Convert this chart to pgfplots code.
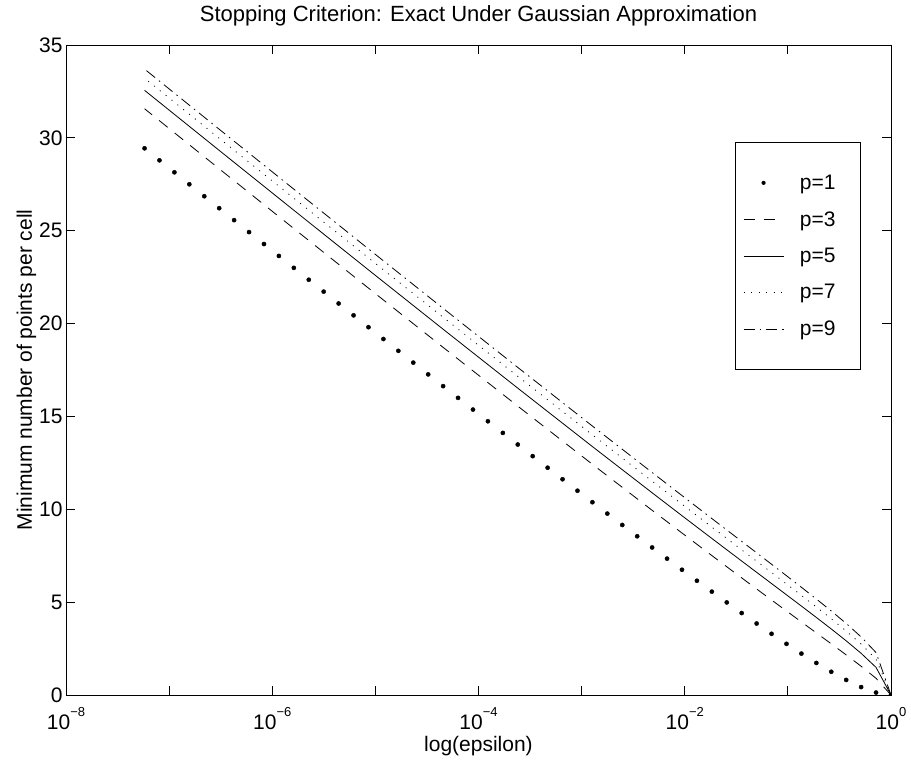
\documentclass[border=0pt]{standalone}
\usepackage{fontspec}
\setmainfont{Liberation Sans}
\usepackage{pgfplots}
\pgfplotsset{compat=1.18}
\newcommand\ff{\fontsize{21}{25}\selectfont}
\newcommand\ex[1]{10\raisebox{13pt}{\fontsize{13}{13}\selectfont #1}}
\pgfplotsset{
  lineleg/.style={legend image code/.code={\draw[##1] (0pt,0pt) -- (40pt,0pt);}},
  dotleg/.style={legend image code/.code={\path[draw=none,fill=none] (0pt,-1pt) rectangle (40pt,1pt); \fill[black,draw=none] (20pt,0pt) circle[radius=2.1pt];}},
}
\begin{document}
\begin{tikzpicture}[font=\ff]
\path[use as bounding box] (-66pt,-66pt) rectangle (845pt,695pt);
\begin{axis}[
  at={(0pt,0pt)}, anchor=south west,
  width=825pt, height=650pt, scale only axis,
  xmode=log, xmin=1e-8, xmax=1, ymin=0, ymax=35,
  xtick={1e-8,1e-6,1e-4,1e-2,1},
  xticklabels={\ex{−8},\ex{−6},\ex{−4},\ex{−2},\ex{0}},
  minor xtick={1e-7,1e-5,1e-3,1e-1},
  ytick={0,5,10,15,20,25,30,35},
  tick align=inside, major tick length=9pt, minor tick length=9pt,
  tick style={black, line width=0.8pt},
  axis line style={black, line width=0.8pt},
  /pgf/number format/assume math mode=true,
  every tick label/.append style={font=\ff},
  xticklabel style={anchor=base, yshift=-34pt},
  title={Stopping Criterion: Exact Under Gaussian Approximation},
  title style={font=\fontsize{22}{26}\selectfont, at={(axis description cs:0.5,1.0262)}, anchor=base},
  xlabel={log(epsilon)},
  xlabel style={font=\ff, at={(axis description cs:0.5,-0.0862)}, anchor=base},
  ylabel={Minimum number of points per cell},
  ylabel style={font=\ff, at={(axis description cs:-0.0412,0.5)}, anchor=base},
  legend style={font=\ff, at={(axis description cs:0.96364,0.85077)}, anchor=north east,
    draw=black, line width=0.8pt, fill=white, inner xsep=8pt, inner ysep=32.5pt,
    row sep=20.5pt, column sep=0pt, nodes={inner sep=0pt}},
  legend cell align=left,
  clip marker paths=true,
]
% p=1
\addplot[black, only marks, mark=*, mark size=2.1pt, dotleg]
coordinates {
(1,0) (0.716531,0.132) (0.513417,0.427) (0.367879,0.811) (0.263597,1.250)
(0.188876,1.726) (0.135335,2.230) (0.096972,2.755) (0.069483,3.295) (0.049787,3.849)
(0.035674,4.413) (0.025561,4.985) (0.018316,5.566) (0.013124,6.152) (0.0094033,6.744)
(0.0067379,7.343) (0.0048279,7.944) (0.0034593,8.548) (0.0024788,9.156) (0.0017761,9.767)
(0.0012726,10.381) (9.1188e-4,10.999) (6.5339e-4,11.618) (4.6817e-4,12.239) (3.3546e-4,12.861)
(2.4036e-4,13.486) (1.7223e-4,14.112) (1.2341e-4,14.740) (8.8425e-5,15.369) (6.3359e-5,15.999)
(4.5400e-5,16.631) (3.2530e-5,17.264) (2.3309e-5,17.897) (1.6702e-5,18.532) (1.1967e-5,19.168)
(8.5749e-6,19.805) (6.1442e-6,20.443) (4.4025e-6,21.081) (3.1545e-6,21.720) (2.2603e-6,22.360)
(1.6196e-6,23.000) (1.1605e-6,23.642) (8.3153e-7,24.283) (5.9582e-7,24.926) (4.2692e-7,25.569)
(3.0590e-7,26.212) (2.1919e-7,26.856) (1.5706e-7,27.500) (1.1254e-7,28.145) (8.0635e-8,28.791)
(5.7777e-8,29.437)
};
\addlegendentry{\hspace*{16pt}p=1\hspace*{17pt}}
% p=3
\addplot[black, no markers, line width=0.8pt, dash pattern=on 11pt off 9pt, lineleg]
coordinates {
(1,0) (0.716531,0.899) (0.513417,1.548) (0.367879,2.159) (0.263597,2.755)
(0.188876,3.345) (0.135335,3.934) (0.096972,4.524) (0.069483,5.115) (0.049787,5.709)
(0.035674,6.306) (0.018316,7.508) (0.0094033,8.722) (0.0048279,9.945) (0.0012726,12.422)
(2.4036e-4,15.555) (4.5400e-5,18.720) (8.5749e-6,21.909) (1.6196e-6,25.116) (3.0590e-7,28.336)
(5.7777e-8,31.568)
};
\addlegendentry{\hspace*{16pt}p=3\hspace*{17pt}}
% p=5
\addplot[black, no markers, line width=0.8pt, solid, lineleg]
coordinates {
(1,0) (0.716531,1.486) (0.513417,2.244) (0.367879,2.917) (0.263597,3.555)
(0.188876,4.176) (0.135335,4.788) (0.096972,5.395) (0.069483,6.001) (0.049787,6.606)
(0.035674,7.213) (0.018316,8.430) (0.0094033,9.655) (0.0048279,10.889) (0.0012726,13.377)
(2.4036e-4,16.523) (4.5400e-5,19.696) (8.5749e-6,22.890) (1.6196e-6,26.102) (3.0590e-7,29.326)
(5.7777e-8,32.560)
};
\addlegendentry{\hspace*{16pt}p=5\hspace*{17pt}}
% p=7
\addplot[black, no markers, line width=0.8pt, dash pattern=on 1pt off 6.5pt, lineleg]
coordinates {
(1,0) (0.716531,1.930) (0.513417,2.741) (0.367879,3.445) (0.263597,4.104)
(0.188876,4.740) (0.135335,5.364) (0.096972,5.980) (0.069483,6.594) (0.049787,7.205)
(0.035674,7.816) (0.018316,9.043) (0.0094033,10.274) (0.0048279,11.513) (0.0012726,14.009)
(2.4036e-4,17.161) (4.5400e-5,20.339) (8.5749e-6,23.537) (1.6196e-6,26.751) (3.0590e-7,29.978)
(5.7777e-8,33.214)
};
\addlegendentry{\hspace*{16pt}p=7\hspace*{17pt}}
% p=9
\addplot[black, no markers, line width=0.8pt, dash pattern=on 11pt off 5pt on 1.5pt off 5pt, lineleg]
coordinates {
(1,0) (0.716531,2.284) (0.513417,3.129) (0.367879,3.852) (0.263597,4.524)
(0.188876,5.169) (0.135335,5.800) (0.096972,6.422) (0.069483,7.040) (0.049787,7.656)
(0.035674,8.271) (0.018316,9.502) (0.0094033,10.739) (0.0048279,11.981) (0.0012726,14.482)
(2.4036e-4,17.639) (4.5400e-5,20.820) (8.5749e-6,24.021) (1.6196e-6,27.237) (3.0590e-7,30.465)
(5.7777e-8,33.703)
};
\addlegendentry{\hspace*{16pt}p=9\hspace*{17pt}}
\end{axis}
\end{tikzpicture}
\end{document}
